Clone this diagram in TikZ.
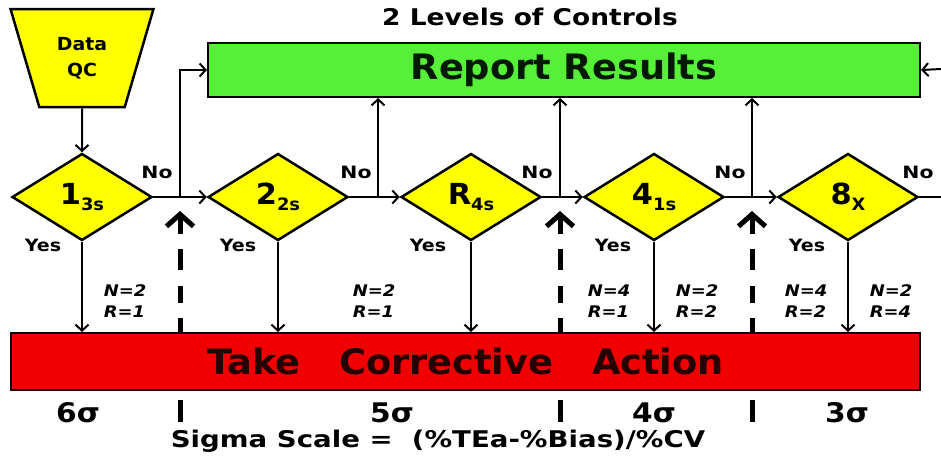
\documentclass[tikz,border=0pt]{standalone}
\usepackage{fontspec}
\setmainfont{DejaVu Sans}
\usetikzlibrary{arrows.meta,shapes.geometric}
\newcommand\hstretch[2][1.05]{\scalebox{#1}[1]{#2}}
\newcommand\fs[1]{\fontsize{#1}{#1}\selectfont}
\definecolor{qyellow}{RGB}{255,255,0}
\definecolor{qgreen}{RGB}{85,240,55}
\definecolor{qred}{RGB}{240,0,0}
\tikzset{
  dec/.style={diamond, draw=black, line width=2.5pt, fill=qyellow, minimum width=140pt, minimum height=87pt, inner sep=0pt, font=\bfseries},
  arr/.style={line width=2pt, -{Straight Barb[length=6pt,width=13pt]}},
  plainline/.style={line width=2pt},
  dasharr/.style={line width=5pt, dash pattern=on 17pt off 15pt on 21pt off 16pt, {Straight Barb[length=12pt,width=27pt]}-},
  tick/.style={line width=5pt},
  lbl/.style={font=\bfseries\fs{17}},
  nr/.style={font=\bfseries\itshape\fs{16}, align=left},
  sig/.style={font=\bfseries\fs{27}},
  bigbox/.style={draw=black, line width=2pt, inner sep=0pt},
}
\newcommand\dlabel[2]{\hstretch{\fs{29}#1\raisebox{-6pt}{\fs{17}#2}}}
\begin{document}
\begin{tikzpicture}[x=1pt,y=-1pt]
\useasboundingbox (0,0) rectangle (941,459);
% title
\node[font=\bfseries\fs{23}] (title) at (530,17) {\hstretch[1.15]{2 Levels of Controls}};
% data QC
\node[trapezium, trapezium stretches=true, shape border rotate=180, trapezium angle=68,
      minimum width=143pt, minimum height=98pt, draw=black, line width=2.5pt, fill=qyellow,
      font=\bfseries\fs{18}, align=center, inner sep=0pt] (dq) at (82,58)
      {\hstretch{Data}\\[8pt]\hstretch{QC}};
% report results
\node[bigbox, fill=qgreen, minimum width=712pt, minimum height=54pt, font=\bfseries\fs{35}, text=black!90!green] (rr) at (564,70) {\hstretch{Report Results}};
% corrective action
\node[bigbox, fill=qred, minimum width=909pt, minimum height=57pt, font=\bfseries\fs{35}, text=black!85!red] (ca) at (465.5,361.5) {\hstretch{Take\hspace{1.05em}Corrective\hspace{1.05em}Action}};
% diamonds
\node[dec] (d1) at (82,197) {\raisebox{-3pt}{\dlabel{1}{3s}}};
\node[dec] (d2) at (278,197) {\raisebox{-3pt}{\dlabel{2}{2s}}};
\node[dec] (d3) at (471,197) {\raisebox{-3pt}{\dlabel{R}{4s}}};
\node[dec] (d4) at (654,197) {\raisebox{-3pt}{\dlabel{4}{1s}}};
\node[dec] (d5) at (848,197) {\raisebox{-3pt}{\dlabel{8}{X}}};
% junctions
\coordinate (j1) at (180,197);
\coordinate (j2) at (378,197);
\coordinate (j3) at (560,197);
\coordinate (j4) at (752,197);
\coordinate (eout) at (941,197);
\coordinate (ein) at (941,69);
\coordinate (t1) at (180,211);
\coordinate (t3) at (560,211);
\coordinate (t4) at (752,211);
% flow
\draw[arr] (dq.south) -- (d1.north);
\draw[arr] (d1.east) -- (d2.west);
\draw[arr] (d2.east) -- (d3.west);
\draw[arr] (d3.east) -- (d4.west);
\draw[arr] (d4.east) -- (d5.west);
\draw[plainline] (d5.east) -- (eout);
\draw[arr] (j1) |- (rr.west);
\draw[arr] (j2) -- (j2 |- rr.south);
\draw[arr] (j3) -- (j3 |- rr.south);
\draw[arr] (j4) -- (j4 |- rr.south);
\draw[arr] (ein) -- (rr.east);
% yes arrows
\draw[arr] (d1.south) -- (d1.south |- ca.north);
\draw[arr] (d2.south) -- (d2.south |- ca.north);
\draw[arr] (d3.south) -- (d3.south |- ca.north);
\draw[arr] (d4.south) -- (d4.south |- ca.north);
\draw[arr] (d5.south) -- (d5.south |- ca.north);
% dashed arrows
\draw[dasharr] (t1) -- (t1 |- ca.north);
\draw[dasharr] (t3) -- (t3 |- ca.north);
\draw[dasharr] (t4) -- (t4 |- ca.north);
% ticks below
\draw[tick] (180,400) -- (180,422);
\draw[tick] (560,400) -- (560,422);
\draw[tick] (752,400) -- (752,422);
% No labels
\node[lbl] (no1) at (157,172) {\hstretch[1.2]{No}};
\node[lbl] (no2) at (356,172) {\hstretch[1.2]{No}};
\node[lbl] (no3) at (537,172) {\hstretch[1.2]{No}};
\node[lbl] (no4) at (730,172) {\hstretch[1.2]{No}};
\node[lbl] (no5) at (918,172) {\hstretch[1.2]{No}};
% Yes labels
\node[lbl] (y1) at (43,245) {\hstretch[1.12]{Yes}};
\node[lbl] (y2) at (238,245) {\hstretch[1.12]{Yes}};
\node[lbl] (y3) at (428,245) {\hstretch[1.12]{Yes}};
\node[lbl] (y4) at (613,245) {\hstretch[1.12]{Yes}};
\node[lbl] (y5) at (807,245) {\hstretch[1.12]{Yes}};
% N/R labels
\node[nr] (nr1) at (125,301) {\hstretch[1.12]{N=2}\\[5pt]\hstretch[1.12]{R=1}};
\node[nr] (nr2) at (374,301) {\hstretch[1.12]{N=2}\\[5pt]\hstretch[1.12]{R=1}};
\node[nr] (nr3) at (609,301) {\hstretch[1.12]{N=4}\\[5pt]\hstretch[1.12]{R=1}};
\node[nr] (nr4) at (697,301) {\hstretch[1.12]{N=2}\\[5pt]\hstretch[1.12]{R=2}};
\node[nr] (nr5) at (806,301) {\hstretch[1.12]{N=4}\\[5pt]\hstretch[1.12]{R=2}};
\node[nr] (nr6) at (891,301) {\hstretch[1.12]{N=2}\\[5pt]\hstretch[1.12]{R=4}};
% sigma labels
\node[sig] (s6) at (78,413) {\hstretch[1.1]{6σ}};
\node[sig] (s5) at (392,413) {\hstretch[1.1]{5σ}};
\node[sig] (s4) at (654,413) {\hstretch[1.1]{4σ}};
\node[sig] (s3) at (847,413) {\hstretch[1.1]{3σ}};
\node[font=\bfseries\fs{23}] (scale) at (438,441) {\hstretch[1.2]{Sigma Scale =\ \ (\%TEa-\%Bias)/\%CV}};
\end{tikzpicture}
\end{document}
